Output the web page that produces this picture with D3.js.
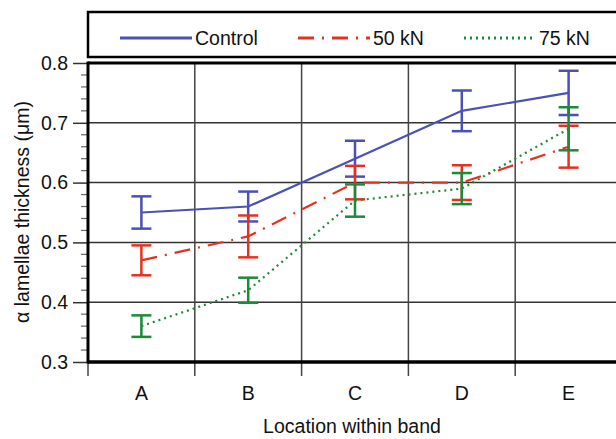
<!DOCTYPE html>
<html><head><meta charset="utf-8">
<script src="https://cdn.jsdelivr.net/npm/d3@7"></script>
<style>body{margin:0;background:#fff}svg{display:block;font-family:"Liberation Sans",Arial,sans-serif}</style>
</head><body>
<svg id="c" width="616" height="439"></svg>
<script>
const categories = ["A","B","C","D","E"];
const seriesNames = ["Control","50 kN","75 kN"];
const controlMean = [0.55,0.56,0.64,0.72,0.75];
const controlErr  = [0.027,0.025,0.03,0.034,0.037];
const kN50Mean = [0.47,0.51,0.60,0.60,0.66];
const kN50Err  = [0.025,0.035,0.028,0.029,0.035];
const kN75Mean = [0.36,0.42,0.57,0.59,0.69];
const kN75Err  = [0.018,0.021,0.027,0.026,0.036];
const yTicks = [0.3,0.4,0.5,0.6,0.7,0.8];

const styles = [
  {color:"#4b50b4", dash:null},
  {color:"#e5321f", dash:"16,8,2,8"},
  {color:"#1b8a3a", dash:"2,4"}
];
const series = [
  {name:seriesNames[0], mean:controlMean, err:controlErr},
  {name:seriesNames[1], mean:kN50Mean, err:kN50Err},
  {name:seriesNames[2], mean:kN75Mean, err:kN75Err}
];
const FS = 19.5;
const FF = "Liberation Sans, Arial, sans-serif";

const svg = d3.select("#c");
const L=88, R=622, T=63, B=362;
const x = d3.scaleBand().domain(categories).range([L,R]);
const y = d3.scaleLinear().domain([0.3,0.8]).range([B,T]);

// grid
const g = svg.append("g");
g.selectAll(".hg").data(yTicks.slice(1,-1)).join("line")
  .attr("x1",L).attr("x2",R).attr("y1",d=>y(d)).attr("y2",d=>y(d))
  .attr("stroke","#333").attr("stroke-width",1.5);
const bounds = categories.map(c=>x(c)).concat([R]);
g.selectAll(".vg").data(bounds).join("line")
  .attr("x1",d=>d).attr("x2",d=>d).attr("y1",T).attr("y2",B+14)
  .attr("stroke","#444").attr("stroke-width",1.5);

// y axis minor ticks
const minor = d3.range(0.3,0.8001,0.02).map(v=>+v.toFixed(2)).filter(v=>!yTicks.some(t=>Math.abs(t-v)<1e-6));
g.selectAll(".mt").data(minor).join("line")
  .attr("x1",L-7).attr("x2",L).attr("y1",d=>y(d)).attr("y2",d=>y(d))
  .attr("stroke","#666").attr("stroke-width",1.2);
const yAxis = d3.axisLeft(y).tickValues(yTicks).tickFormat(d3.format(".1f")).tickSize(15).tickPadding(5);
const ya = svg.append("g").attr("transform",`translate(${L},0)`).call(yAxis);
ya.select(".domain").remove();
ya.selectAll(".tick line").attr("stroke","#333").attr("stroke-width",1.5);
ya.selectAll(".tick text").attr("font-size",FS).attr("fill","#111").attr("font-family",FF);

const xAxis = d3.axisBottom(x).tickSize(0).tickPadding(24);
const xa = svg.append("g").attr("transform",`translate(0,${B})`).call(xAxis);
xa.select(".domain").remove();
xa.selectAll(".tick text").attr("font-size",FS).attr("fill","#111").attr("font-family",FF);

// frame
svg.append("line").attr("x1",L).attr("x2",R).attr("y1",T).attr("y2",T).attr("stroke","#000").attr("stroke-width",3);
svg.append("line").attr("x1",L).attr("x2",R).attr("y1",B).attr("y2",B).attr("stroke","#000").attr("stroke-width",3.5);
svg.append("line").attr("x1",L).attr("x2",L).attr("y1",T-1.5).attr("y2",B+1.5).attr("stroke","#000").attr("stroke-width",3);

// series
const line = d3.line().x((d,i)=>x(categories[i])+x.bandwidth()/2).y(d=>y(d));
series.forEach((s,k)=>{
  const st = styles[k];
  const gs = svg.append("g");
  gs.append("path").attr("d",line(s.mean)).attr("fill","none").attr("stroke",st.color)
    .attr("stroke-width",2.2).attr("stroke-dasharray",st.dash);
  const pts = s.mean.map((m,i)=>({cx:x(categories[i])+x.bandwidth()/2, lo:m-s.err[i], hi:m+s.err[i]}));
  gs.selectAll(".eb").data(pts).join("line").attr("x1",d=>d.cx).attr("x2",d=>d.cx)
    .attr("y1",d=>y(d.lo)).attr("y2",d=>y(d.hi)).attr("stroke",st.color).attr("stroke-width",2.5);
  ["lo","hi"].forEach(key=>{
    gs.selectAll(".cap"+key).data(pts).join("line").attr("x1",d=>d.cx-10).attr("x2",d=>d.cx+10)
      .attr("y1",d=>y(d[key])).attr("y2",d=>y(d[key])).attr("stroke",st.color).attr("stroke-width",2.5);
  });
});

// axis titles
svg.append("text").attr("x",352).attr("y",433).attr("text-anchor","middle")
  .attr("font-size",FS).attr("fill","#111").text("Location within band");
svg.append("text").attr("transform","translate(29,212) rotate(-90)").attr("text-anchor","middle")
  .attr("font-size",FS).attr("fill","#111").text("α lamellae thickness (μm)");

// legend
svg.append("rect").attr("x",88).attr("y",12).attr("width",560).attr("height",45)
  .attr("fill","#fff").attr("stroke","#000").attr("stroke-width",2.5);
const legX = [120,298,464];
series.forEach((s,k)=>{
  const st = styles[k];
  svg.append("line").attr("x1",legX[k]).attr("x2",legX[k]+72).attr("y1",38).attr("y2",38)
    .attr("stroke",st.color).attr("stroke-width",3).attr("stroke-dasharray",st.dash);
  svg.append("text").attr("x",legX[k]+75).attr("y",45).attr("font-size",FS).attr("fill","#111").text(s.name);
});
</script>
</body></html>
